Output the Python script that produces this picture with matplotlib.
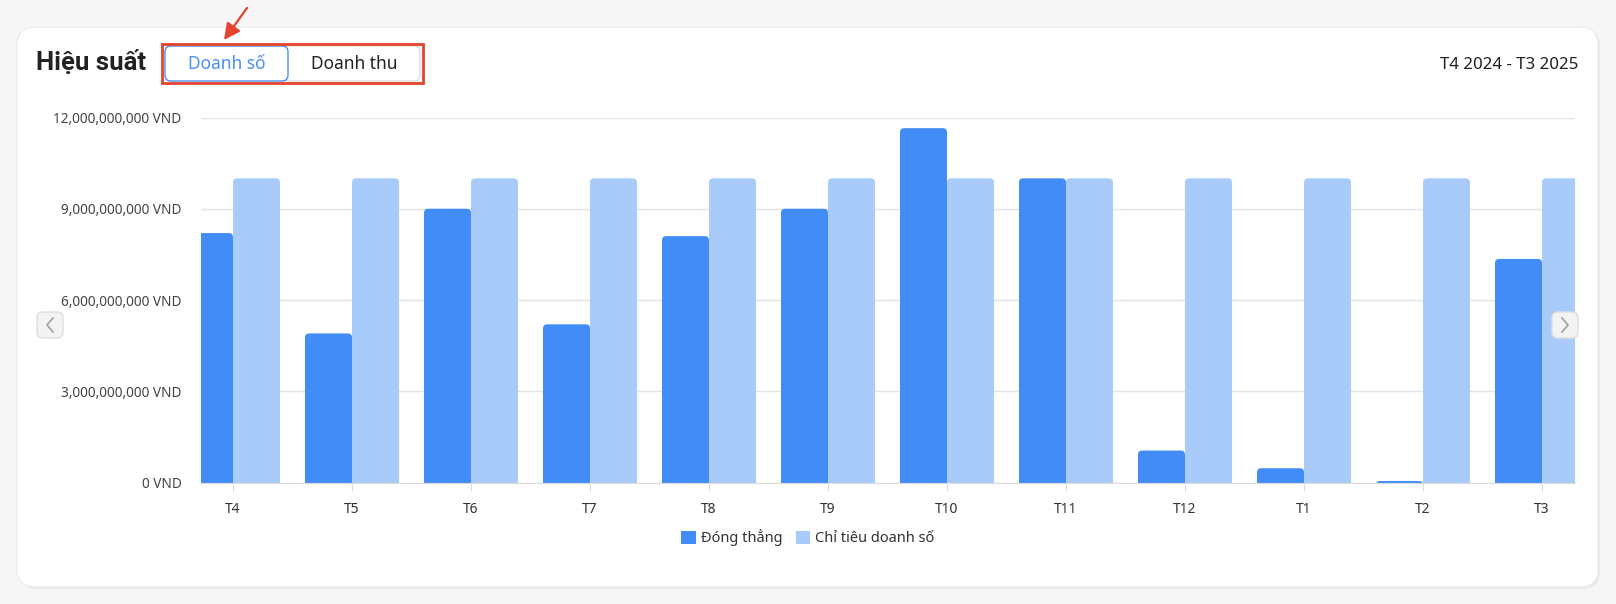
import matplotlib.pyplot as plt
from matplotlib.patches import FancyBboxPatch, Rectangle, FancyArrowPatch
import numpy as np

plt.rcParams['font.family'] = ['Noto Sans', 'DejaVu Sans']

# data (billions VND)
months = ['T4', 'T5', 'T6', 'T7', 'T8', 'T9', 'T10', 'T11', 'T12', 'T1', 'T2', 'T3']
dong_thang = [8.2, 4.9, 9.0, 5.2, 8.1, 9.0, 11.65, 10.0, 1.05, 0.47, 0.05, 7.35]
chi_tieu = [10.0, 10.0, 10.0, 10.0, 10.0, 10.0, 10.0, 10.0, 10.0, 10.0, 10.0, 10.0]
y_ticks = [0, 3, 6, 9, 12]
series_names = ['Đóng thẳng', 'Chỉ tiêu doanh số']
period = 'T4 2024 - T3 2025'
tabs = ['Doanh số', 'Doanh thu']

dark = '#418cf6'
light = '#a8cbfa'
W, H = 1616, 604

fig = plt.figure(figsize=(W / 100, H / 100), dpi=100)
fig.patch.set_facecolor('#f6f6f6')

# background layer in pixel coords
bg = fig.add_axes([0, 0, 1, 1], zorder=0)
bg.set_xlim(0, W)
bg.set_ylim(H, 0)
bg.axis('off')
bg.add_patch(FancyBboxPatch((19, 29), 1581, 560, boxstyle='round,pad=0,rounding_size=18',
                            fc='#e9e9e9', ec='none'))
bg.add_patch(FancyBboxPatch((17, 27), 1581, 560, boxstyle='round,pad=0,rounding_size=18',
                            fc='white', ec='#ececec', lw=1))

# chart
ax = fig.add_axes([201 / W, 1 - 482.5 / H, (1575 - 201) / W, (482.5 - 117.5) / H], zorder=1)
ax.patch.set_alpha(0)
x = np.arange(len(months))
bw = 47 / 119
b1 = ax.bar(x - bw / 2, dong_thang, bw, color=dark, zorder=2, label=series_names[0])
b2 = ax.bar(x + bw / 2, chi_tieu, bw, color=light, zorder=2, label=series_names[1])
ax.set_xlim(-32 / 119, 11 + 33 / 119)
ax.set_ylim(0, 12)

# round the bar tops (bottom corners hidden below the baseline)
asp = 119 / (365 / 12)
for bars in (b1, b2):
    for r in bars:
        r.set_visible(False)
        x0, w, h = r.get_x(), r.get_width(), r.get_height()
        ax.add_patch(FancyBboxPatch((x0, -0.5), w, h + 0.5,
                                    boxstyle='round,pad=0,rounding_size=0.035',
                                    mutation_aspect=asp, fc=r.get_facecolor(), ec='none', zorder=2))

ax.set_yticks(y_ticks)
ax.set_yticklabels([f'{v * 1e9:,.0f} VND' for v in y_ticks])
ax.set_xticks(x)
ax.set_xticklabels(months)
ax.grid(axis='y', color='#e4e4e4', lw=1, zorder=0)
for s in ['top', 'right', 'left']:
    ax.spines[s].set_visible(False)
ax.spines['bottom'].set_color('#dcdcdc')
ax.spines['bottom'].set_zorder(3)
ax.tick_params(axis='y', length=0, pad=14, labelsize=9.8, labelcolor='#444444')
ax.tick_params(axis='x', length=6, color='#dcdcdc', pad=8, labelsize=10, labelcolor='#333333')

leg = ax.legend(handles=[b1, b2], loc='center', bbox_to_anchor=(808 / W, 1 - 538 / H),
                bbox_transform=fig.transFigure,
                ncol=2, frameon=False, fontsize=10.5, handlelength=1.0, handleheight=1.0,
                handletextpad=0.35, columnspacing=0.9, labelcolor='#333333')
for hnd in leg.legend_handles:
    hnd.set_visible(True)

# foreground layer
fg = fig.add_axes([0, 0, 1, 1], zorder=3)
fg.set_xlim(0, W)
fg.set_ylim(H, 0)
fg.axis('off')
fg.patch.set_alpha(0)

fg.text(36, 63, 'Hiệu suất', fontsize=18.5, fontweight='bold', color='#222222', va='center', ha='left',
        family=['Roboto', 'DejaVu Sans'])
fg.text(1578, 65, period, fontsize=12.2, color='#222222', va='center', ha='right')

# tabs
fg.add_patch(FancyBboxPatch((165, 46), 255, 35, boxstyle='round,pad=0,rounding_size=6',
                            fc='white', ec='#dddddd', lw=1))
fg.add_patch(FancyBboxPatch((165, 46), 123, 35, boxstyle='round,pad=0,rounding_size=6',
                            fc='white', ec='#4a8ff2', lw=1.0))
fg.text(226.5, 64, tabs[0], fontsize=12.5, color='#4a8ff2', va='center', ha='center')
fg.text(354, 64, tabs[1], fontsize=12.5, color='#222222', va='center', ha='center')
fg.add_patch(Rectangle((162, 44), 261, 39, fc='none', ec='#e5432e', lw=2))
fg.add_patch(FancyArrowPatch((247, 8), (224, 40), arrowstyle='-|>,head_length=0.7,head_width=0.35',
                             color='#e5432e', lw=1.6, mutation_scale=14, shrinkA=0, shrinkB=0))

# nav buttons
for cx, sign in [(50, 1), (1565, -1)]:
    fg.add_patch(FancyBboxPatch((cx - 13, 312), 26, 26, boxstyle='round,pad=0,rounding_size=6',
                                fc='#f3f3f3', ec='#dedede', lw=1))
    fg.plot([cx + 3 * sign, cx - 3 * sign, cx + 3 * sign], [318, 325, 332], color='#a0a0a0', lw=1.2)

fig.savefig('out.png', dpi=100, facecolor=fig.get_facecolor())
